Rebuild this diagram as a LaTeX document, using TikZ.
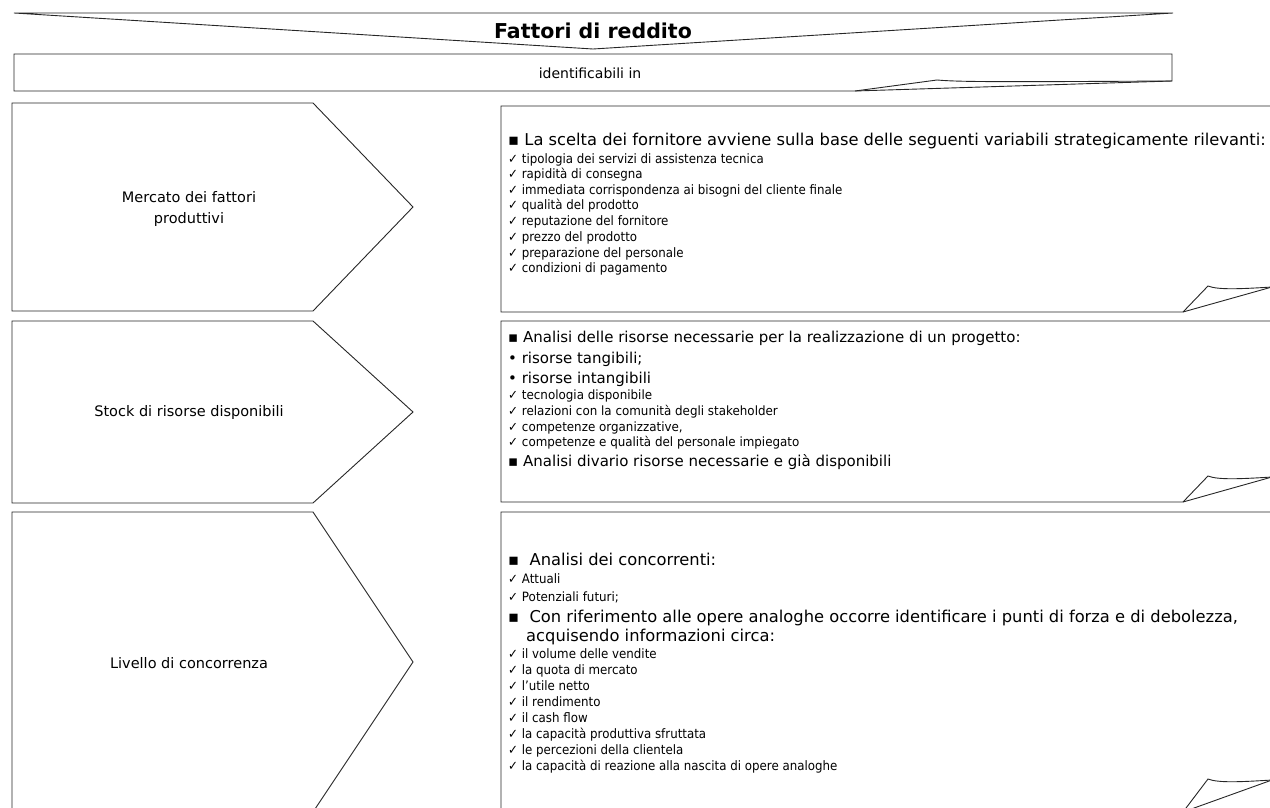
\documentclass[tikz,border=0pt]{standalone}
\usepackage{fontspec}
\setmainfont{DejaVu Sans}
\newfontfamily\narrowfont[FakeStretch=0.91]{DejaVu Sans}
\newfontfamily\narrowerfont[FakeStretch=0.93]{DejaVu Sans}
\begin{document}
\begin{tikzpicture}[x=1pt,y=-1pt,
  outline/.style={draw=black!85, line width=0.9pt, line join=miter},
  big/.style={anchor=base west, inner sep=0pt, font=\fontsize{16.3}{18}\selectfont},
  mid/.style={anchor=base west, inner sep=0pt, font=\fontsize{15}{18}\selectfont},
  small/.style={anchor=base west, inner sep=0pt, font=\narrowfont\fontsize{13}{14}\selectfont},
  tiny/.style={anchor=base west, inner sep=0pt, font=\narrowerfont\fontsize{12.8}{14}\selectfont},
  label/.style={align=center, inner sep=0pt, font=\fontsize{14.5}{21}\selectfont}]
\useasboundingbox (0,0) rectangle (1270,808);
\clip (0,0) rectangle (1270,808);

% title banner
\draw[outline] (14,13) -- (1173,13) -- (593,49) -- cycle;
\node[inner sep=0pt, font=\fontsize{20.5}{24}\selectfont\bfseries] (title) at (593,31) {Fattori di reddito};

% "identificabili in" strip with its curled corner
\draw[outline] (14,54) -- (1172,54) -- (1172,81) -- (855,91) -- (14,91) -- cycle;
\draw[outline] (855,91) -- (937,80) .. controls (960,82) and (1000,82) .. (1172,81);
\node[inner sep=0pt, font=\fontsize{14}{16}\selectfont] (ident) at (590,73) {identificabili in};

% left pentagons
\draw[outline] (12,103) -- (313,103) -- (413,207) -- (313,311) -- (12,311) -- cycle;
\draw[outline] (12,321) -- (313,321) -- (413,412) -- (313,503) -- (12,503) -- cycle;
\draw[outline] (12,512) -- (313,512) -- (413,662) -- (313,812) -- (12,812) -- cycle;
\node[label] (p1) at (189,209) {Mercato dei fattori\\ produttivi};
\node[label] (p2) at (189,412) {Stock di risorse disponibili};
\node[label] (p3) at (189,663) {Livello di concorrenza};

% right boxes with folded corners
\foreach \t/\b/\f [count=\k] in {106/312/25, 321/502/25, 512/812/32} {
  \draw[outline] (1272,\b-\f) -- (1272,\t) -- (501,\t) -- (501,\b) -- (1183,\b) -- cycle;
  \draw[outline] (1183,\b) -- (1208,\b-\f-1) .. controls (1218,\b-\f+3) and (1240,\b-\f+2) .. (1272,\b-\f);
}

% box 1
\node[big] (b1h) at (508,146) {▪ La  scelta dei fornitore avviene sulla base delle seguenti variabili strategicamente rilevanti:};
\foreach \y/\s [count=\i] in {163/tipologia dei servizi di assistenza tecnica,
  178/rapidità di consegna,
  194/immediata corrispondenza ai bisogni del cliente finale,
  209/qualità del prodotto,
  225/reputazione del fornitore,
  241/prezzo del prodotto/servizio,
  257/preparazione del personale,
  272/condizioni di pagamento}
  \node[small] (b1l\i) at (508,\y) {✓ \s};

% box 2
\node[mid] (b2h) at (508,342) {▪ Analisi delle risorse necessarie per la realizzazione di un progetto:};
\node[mid] (b2a) at (508,363) {• risorse tangibili;};
\node[mid] (b2b) at (508,383) {• risorse intangibili};
\foreach \y/\s [count=\i] in {399/tecnologia disponibile,
  415/relazioni con la comunità degli stakeholder,
  431/{competenze organizzative,},
  446/competenze e qualità del personale impiegato}
  \node[tiny] (b2l\i) at (508,\y) {✓ \s};
\node[mid] (b2c) at (508,466) {▪ Analisi divario risorse necessarie e già disponibili};

% box 3
\node[big] (b3h) at (508,565) {▪ \ Analisi dei concorrenti:};
\node[small] (b3a) at (508,583) {✓ Attuali};
\node[tiny] (b3b) at (508,601) {✓ Potenziali futuri;};
\node[big] (b3c) at (508,622) {▪ \ Con riferimento alle opere analoghe occorre identificare i punti di forza e di debolezza,};
\node[big] (b3d) at (526,641) {acquisendo informazioni circa:};
\foreach \y/\s [count=\i] in {658/il volume delle vendite,
  674/la quota di mercato,
  690/l’utile netto,
  706/il rendimento,
  722/il cash flow,
  738/la capacità produttiva sfruttata,
  754/le percezioni della clientela,
  770/la capacità di reazione alla nascita di opere analoghe}
  \node[small] (b3l\i) at (508,\y) {✓ \s};
\end{tikzpicture}
\end{document}
